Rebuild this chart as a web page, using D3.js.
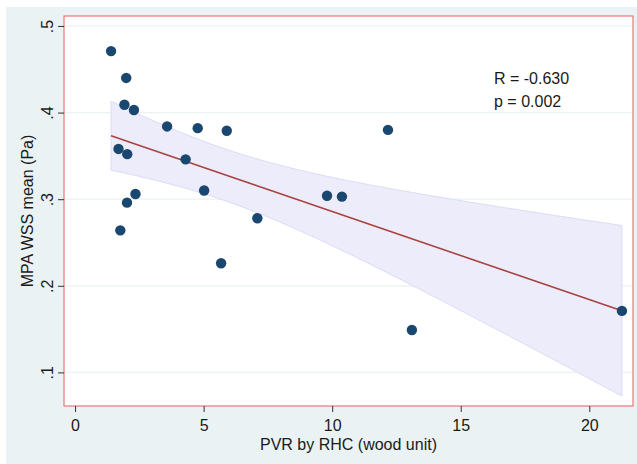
<!DOCTYPE html>
<html>
<head>
<meta charset="utf-8">
<script src="https://cdn.jsdelivr.net/npm/d3@7"></script>
<style>
  body { margin: 0; background: #fff; }
  svg { display: block; font-family: "Liberation Sans", Arial, sans-serif; }
  .tick text { font-size: 16px; fill: #1a1a1a; }
</style>
</head>
<body>
<svg id="chart"></svg>
<script>
// PVR by RHC (wood unit) vs MPA WSS mean (Pa)
const pvr = [1.40, 1.99, 1.92, 2.29, 3.58, 4.77, 5.90, 1.69, 2.03, 4.30, 5.02,
             2.35, 2.02, 1.76, 7.09, 5.68, 9.80, 10.38, 12.17, 13.10, 21.27];
const wss = [0.471, 0.440, 0.409, 0.403, 0.384, 0.382, 0.379, 0.358, 0.352, 0.346, 0.310,
             0.306, 0.296, 0.264, 0.278, 0.226, 0.304, 0.303, 0.380, 0.149, 0.171];
const xTicks = [0, 5, 10, 15, 20];
const yTicks = [0.1, 0.2, 0.3, 0.4, 0.5];
const yTickLabels = [".1", ".2", ".3", ".4", ".5"];
const annotation = ["R = -0.630", "p = 0.002"];

const W = 637, H = 464;
const plot = { left: 64, right: 633, top: 16, bottom: 406 };

const svg = d3.select("#chart").attr("width", W).attr("height", H);

// outer graph region
svg.append("rect")
  .attr("x", 6).attr("y", 7)
  .attr("width", W - 6).attr("height", H - 7)
  .attr("fill", "#eaf2f3");

// scales
const x = d3.scaleLinear().domain([-0.43, 21.7]).range([plot.left, plot.right]);
const y = d3.scaleLinear().domain([0.0612, 0.5115]).range([plot.bottom, plot.top]);

// plot region
svg.append("rect")
  .attr("x", plot.left).attr("y", plot.top)
  .attr("width", plot.right - plot.left).attr("height", plot.bottom - plot.top)
  .attr("fill", "#fff");

// horizontal grid lines
svg.append("g")
  .selectAll("line")
  .data(yTicks)
  .join("line")
  .attr("x1", plot.left).attr("x2", plot.right)
  .attr("y1", d => y(d)).attr("y2", d => y(d))
  .attr("stroke", "#eaf2f3").attr("stroke-width", 1.2);

// linear fit with 95% CI of the mean
const data = pvr.map((v, i) => ({ x: v, y: wss[i] }));
const n = data.length;
const xbar = d3.mean(pvr), ybar = d3.mean(wss);
const sxx = d3.sum(pvr, v => (v - xbar) ** 2);
const sxy = d3.sum(data, d => (d.x - xbar) * (d.y - ybar));
const b = sxy / sxx, a = ybar - b * xbar;
const sse = d3.sum(data, d => (d.y - (a + b * d.x)) ** 2);
const s = Math.sqrt(sse / (n - 2));
const tcrit = 2.093; // t(0.975, 19)

const [xmin, xmax] = d3.extent(pvr);
const grid = d3.range(0, 101).map(i => xmin + (xmax - xmin) * i / 100);
const band = grid.map(xv => {
  const fit = a + b * xv;
  const se = s * Math.sqrt(1 / n + (xv - xbar) ** 2 / sxx);
  return { x: xv, fit, lo: fit - tcrit * se, hi: fit + tcrit * se };
});

svg.append("path")
  .datum(band)
  .attr("d", d3.area().x(d => x(d.x)).y0(d => y(d.lo)).y1(d => y(d.hi)))
  .attr("fill", "#ececfb")
  .attr("stroke", "#dcdcf6")
  .attr("stroke-width", 1);

svg.append("path")
  .datum(band)
  .attr("d", d3.line().x(d => x(d.x)).y(d => y(d.fit)))
  .attr("fill", "none")
  .attr("stroke", "#a8433f")
  .attr("stroke-width", 1.6);

// points
svg.append("g")
  .selectAll("circle")
  .data(data)
  .join("circle")
  .attr("cx", d => x(d.x))
  .attr("cy", d => y(d.y))
  .attr("r", 5.2)
  .attr("fill", "#1a476f");

// plot border
svg.append("rect")
  .attr("x", plot.left).attr("y", plot.top)
  .attr("width", plot.right - plot.left).attr("height", plot.bottom - plot.top)
  .attr("fill", "none")
  .attr("stroke", "#e8787a").attr("stroke-width", 1.2);

// axes
const gx = svg.append("g")
  .attr("transform", `translate(0,${plot.bottom})`)
  .call(d3.axisBottom(x).tickValues(xTicks).tickSize(6).tickPadding(8));
gx.select(".domain").remove();
gx.selectAll(".tick line").attr("stroke", "#333");

const gy = svg.append("g")
  .attr("transform", `translate(${plot.left},0)`)
  .call(d3.axisLeft(y).tickValues(yTicks).tickSize(6)
    .tickFormat((d, i) => yTickLabels[i]));
gy.select(".domain").remove();
gy.selectAll(".tick line").attr("stroke", "#333");
gy.selectAll(".tick text")
  .attr("transform", "rotate(-90)")
  .attr("x", 0).attr("y", -11)
  .attr("dy", "0")
  .attr("text-anchor", "middle");

// axis titles
svg.append("text")
  .attr("x", (plot.left + plot.right) / 2)
  .attr("y", 450)
  .attr("text-anchor", "middle")
  .attr("font-size", 16)
  .attr("fill", "#1a1a1a")
  .text("PVR by RHC (wood unit)");

svg.append("text")
  .attr("transform", `translate(33,${(plot.top + plot.bottom) / 2}) rotate(-90)`)
  .attr("text-anchor", "middle")
  .attr("font-size", 16)
  .attr("fill", "#1a1a1a")
  .text("MPA WSS mean (Pa)");

// annotation
svg.append("g")
  .selectAll("text")
  .data(annotation)
  .join("text")
  .attr("x", 494)
  .attr("y", (d, i) => 84 + i * 23)
  .attr("font-size", 16)
  .attr("fill", "#1a1a1a")
  .text(d => d);
</script>
</body>
</html>
